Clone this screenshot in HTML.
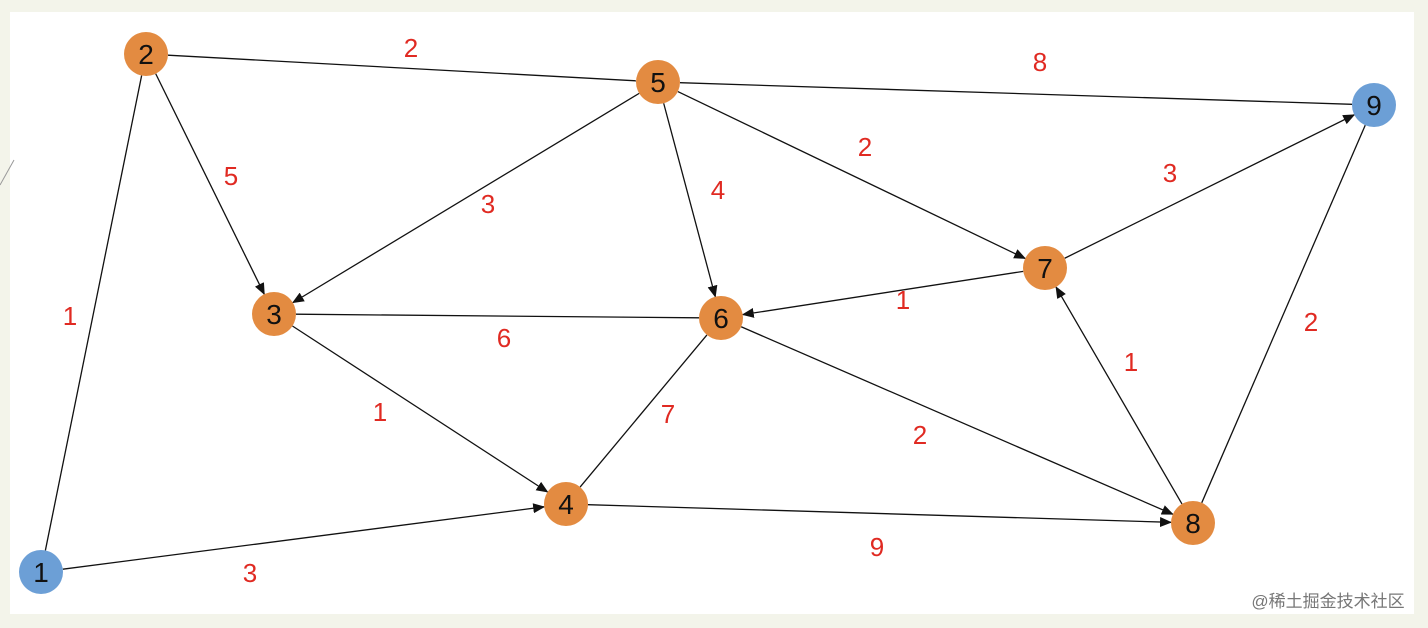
<!DOCTYPE html>
<html><head><meta charset="utf-8"><style>
html,body{margin:0;padding:0;background:#f3f4ea;}
svg{display:block}
</style></head><body>
<svg id="s" width="1428" height="628" xmlns="http://www.w3.org/2000/svg">
<defs><marker id="a" markerWidth="12" markerHeight="10" refX="11" refY="5" orient="auto" markerUnits="userSpaceOnUse"><path d="M0,0 L12,5 L0,10 z" fill="#111"/></marker></defs>
<rect x="10" y="12" width="1404" height="602" fill="#fff"/>
<line x1="0" y1="185" x2="14" y2="160" stroke="#999" stroke-width="1"/>
<g id="e"></g><g id="n"></g><g id="l" font-family="Liberation Sans, sans-serif" font-size="26" fill="#e02a22" text-anchor="middle"></g>
<text x="1328" y="607" font-family="Liberation Sans, Noto Sans CJK SC, sans-serif" font-size="17" fill="#777" text-anchor="middle">@稀土掘金技术社区</text>
</svg>
<script>
var N={1:[41,572,1],2:[146,54],3:[274,314],4:[566,504],5:[658,82],6:[721,318],7:[1045,268],8:[1193,523],9:[1374,105,1]};
var E=[[2,1,0],[2,5,0],[5,9,0],[2,3,1],[5,3,1],[5,6,1],[5,7,1],[7,9,1],[7,6,1],[3,6,0],[3,4,1],[6,4,0],[6,8,1],[4,8,1],[8,7,1],[8,9,0],[1,4,1]];
var L=[[411,48,2],[1040,62,8],[231,176,5],[488,204,3],[718,190,4],[865,147,2],[1170,173,3],[70,316,1],[504,338,6],[903,300,1],[1311,322,2],[380,412,1],[668,414,7],[920,435,2],[1131,362,1],[877,547,9],[250,573,3]];
var ns="http://www.w3.org/2000/svg",R=22;
function el(t,a,p){var e=document.createElementNS(ns,t);for(var k in a)e.setAttribute(k,a[k]);p.appendChild(e);return e;}
var ge=document.getElementById('e'),gn=document.getElementById('n'),gl=document.getElementById('l');
E.forEach(function(x){var a=N[x[0]],b=N[x[1]],dx=b[0]-a[0],dy=b[1]-a[1],d=Math.hypot(dx,dy),ux=dx/d,uy=dy/d;
var at={x1:a[0]+ux*R,y1:a[1]+uy*R,x2:b[0]-ux*R,y2:b[1]-uy*R,stroke:'#111','stroke-width':1.3};
if(x[2])at['marker-end']='url(#a)';el('line',at,ge);});
for(var k in N){var p=N[k];el('circle',{cx:p[0],cy:p[1],r:R,fill:p[2]?'#6c9fd6':'#e38b41'},gn);
var t=el('text',{x:p[0],y:p[1]+10,'font-family':'Liberation Sans, sans-serif','font-size':28,'text-anchor':'middle',fill:'#111'},gn);t.textContent=k;}
L.forEach(function(x){var t=el('text',{x:x[0],y:x[1]+9},gl);t.textContent=x[2];});
</script>
</body></html>
